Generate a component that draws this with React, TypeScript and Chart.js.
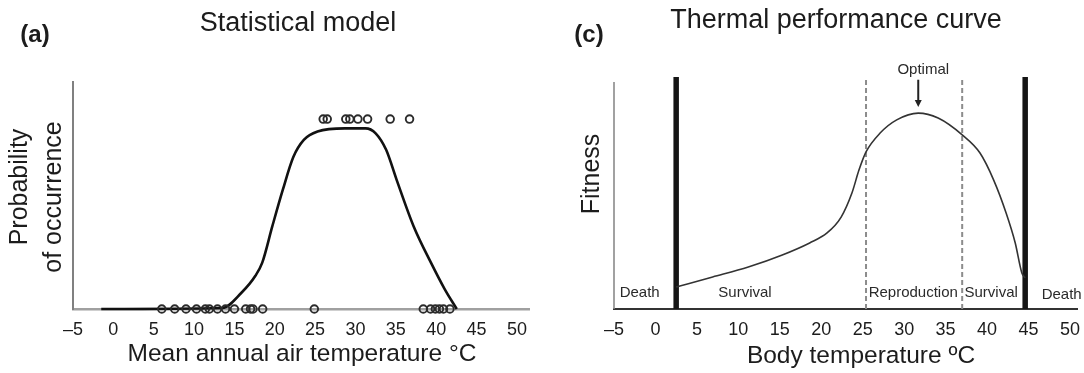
import React, { useEffect, useRef } from "react";
import { Chart, registerables } from "chart.js";

Chart.register(...registerables);

const FONT = "'Liberation Sans', Arial, Helvetica, sans-serif";

// ---------- shared ----------
const xTickValues = [-5, 0, 5, 10, 15, 20, 25, 30, 35, 40, 45, 50];

// ---------- panel (a): statistical model ----------
const curveTempA = [-1.5, 13.5, 15.9, 17.6, 18.45, 19.7, 21.0, 22.3, 23.6, 25.3, 28.7, 31.25, 32.5, 33.8, 35.1, 37.2, 39.35, 41.05, 42.55];
const curveProbA = [0, 0.005, 0.087, 0.175, 0.244, 0.436, 0.628, 0.8, 0.89, 0.934, 0.951, 0.951, 0.925, 0.838, 0.68, 0.436, 0.244, 0.105, 0];
const presenceTemps = [26.0, 26.5, 28.8, 29.3, 30.3, 31.5, 34.3, 36.7];
const absenceTemps = [6.0, 7.6, 9.0, 10.3, 11.4, 11.9, 12.9, 13.9, 15.0, 16.4, 17.0, 17.3, 18.5, 24.9, 38.4, 39.3, 39.9, 40.4, 40.9, 41.7];

// ---------- panel (c): thermal performance curve ----------
const bodyTemp = [2.5, 6.9, 11.2, 15.3, 18.6, 20.7, 22.4, 23.7, 24.55, 25.4, 27.1, 29.1, 31.7, 34.1, 37.0, 39.15, 40.8, 42.3, 43.4, 44.2, 44.6];
const fitness = [9.7, 14.1, 18.5, 23.8, 29.1, 33.5, 40.5, 51.1, 61.2, 69.2, 77.5, 83.3, 86.3, 84.1, 76.7, 68.7, 56.8, 42.3, 29.1, 15.9, 13.7];
const lethalLimits = [2.5, 44.6];
const reproLimits = [25.4, 37.0];
const zoneLabels = ["Death", "Survival", "Reproduction", "Survival", "Death"];
const zoneLabelX = [-1.9, 10.8, 31.1, 40.5, 49.0];
const zoneLabelY = [7.0, 7.0, 7.0, 7.0, 6.2];
const optimalX = 31.7;
const optimalArrow = [101, 89]; // top, tip (fitness units)
const optimalLabelY = 105.3;
const fitnessTop = 102.2;
const fitnessAxisTop = 100;

function tickLabel(v: number) {
  return v < 0 ? "\u2013" + Math.abs(v) : String(v);
}

function xScale(min: number, max: number, color: string, width: number) {
  return {
    type: "linear",
    min,
    max,
    afterBuildTicks: (scale: any) => {
      scale.ticks = xTickValues.map((v) => ({ value: v }));
    },
    ticks: {
      font: { family: FONT, size: 18 },
      color: "#1c1c1c",
      padding: 10,
      maxRotation: 0,
      autoSkip: false,
      callback: (v: any) => tickLabel(Number(v)),
    },
    grid: { display: false, drawTicks: false },
    border: { display: true, color, width },
    afterFit: (scale: any) => {
      scale.height = 64;
      scale.paddingLeft = 0;
      scale.paddingRight = 0;
    },
  };
}

function text(ctx: CanvasRenderingContext2D, s: string, x: number, y: number, font: string, color: string, rot = 0) {
  ctx.save();
  ctx.translate(x, y);
  if (rot) ctx.rotate(rot);
  ctx.font = font;
  ctx.fillStyle = color;
  ctx.textAlign = "center";
  ctx.textBaseline = "middle";
  ctx.fillText(s, 0, 0);
  ctx.restore();
}

const annotA = {
  id: "annotA",
  afterDraw(chart: any) {
    const ctx = chart.ctx as CanvasRenderingContext2D;
    text(ctx, "(a)", 35, 35, `bold 24px ${FONT}`, "#1c1c1c");
    text(ctx, "Statistical model", 298, 24, `27px ${FONT}`, "#1c1c1c");
    text(ctx, "Mean annual air temperature \u00B0C", 302, 354, `24.5px ${FONT}`, "#1c1c1c");
    text(ctx, "Probability", 20, 187, `25px ${FONT}`, "#1c1c1c", -Math.PI / 2);
    text(ctx, "of occurrence", 54, 197, `25px ${FONT}`, "#1c1c1c", -Math.PI / 2);
  },
};

const annotC = {
  id: "annotC",
  afterDraw(chart: any) {
    const ctx = chart.ctx as CanvasRenderingContext2D;
    const xs = chart.scales.x;
    const ys = chart.scales.y;
    text(ctx, "(c)", 47, 35, `bold 24px ${FONT}`, "#1c1c1c");
    text(ctx, "Thermal performance curve", 294, 21, `27px ${FONT}`, "#1c1c1c");
    text(ctx, "Body temperature \u00BAC", 319, 356, `24.5px ${FONT}`, "#1c1c1c");
    text(ctx, "Fitness", 50, 174, `25px ${FONT}`, "#1c1c1c", -Math.PI / 2);
    zoneLabels.forEach((l, i) => {
      text(ctx, l, xs.getPixelForValue(zoneLabelX[i]), ys.getPixelForValue(zoneLabelY[i]), `15px ${FONT}`, "#2a2a2a");
    });
    text(ctx, "Optimal", xs.getPixelForValue(optimalX + 0.6), ys.getPixelForValue(optimalLabelY), `15px ${FONT}`, "#2a2a2a");
    // arrow
    const ax = xs.getPixelForValue(optimalX);
    const y1 = ys.getPixelForValue(optimalArrow[0]);
    const y2 = ys.getPixelForValue(optimalArrow[1]);
    ctx.save();
    ctx.strokeStyle = "#222";
    ctx.fillStyle = "#222";
    ctx.lineWidth = 2;
    ctx.beginPath();
    ctx.moveTo(ax, y1);
    ctx.lineTo(ax, y2 - 6);
    ctx.stroke();
    ctx.beginPath();
    ctx.moveTo(ax - 3.5, y2 - 7);
    ctx.lineTo(ax + 3.5, y2 - 7);
    ctx.lineTo(ax, y2);
    ctx.closePath();
    ctx.fill();
    ctx.restore();
  },
};

function vline(x: number, top: number, color: string, width: number, dash: number[] = []) {
  return {
    type: "line",
    data: [
      { x, y: 0 },
      { x, y: top },
    ],
    borderColor: color,
    borderWidth: width,
    borderDash: dash,
    pointRadius: 0,
    clip: false,
    borderCapStyle: "butt",
  };
}

function buildA(): any {
  const pointStyle = {
    pointRadius: 3.8,
    borderWidth: 1.9,
    borderColor: "#2b2b2b",
    backgroundColor: "rgba(0,0,0,0)",
    clip: false,
  };
  return {
    type: "line",
    data: {
      datasets: [
        { type: "scatter", data: presenceTemps.map((t) => ({ x: t, y: 1 })), ...pointStyle },
        { type: "scatter", data: absenceTemps.map((t) => ({ x: t, y: 0 })), ...pointStyle },
        {
          type: "line",
          data: curveTempA.map((t, i) => ({ x: t, y: curveProbA[i] })),
          borderColor: "#111",
          borderWidth: 2.6,
          pointRadius: 0,
          cubicInterpolationMode: "monotone",
          clip: false,
        },
      ],
    },
    options: {
      animation: false,
      responsive: false,
      layout: { padding: { left: 0, right: 13, top: 82, bottom: 0 } },
      plugins: { legend: { display: false }, tooltip: { enabled: false } },
      scales: {
        x: xScale(-5, 51.5, "#a0a0a0", 2.5),
        y: {
          type: "linear",
          min: 0,
          max: 1.195,
          ticks: { display: false },
          grid: { display: false, drawTicks: false },
          border: { display: true, color: "#808080", width: 2 },
          afterFit: (s: any) => {
            s.width = 73;
          },
        },
      },
    },
    plugins: [annotA],
  };
}

function buildC(): any {
  return {
    type: "line",
    data: {
      datasets: [
        {
          type: "line",
          data: bodyTemp.map((t, i) => ({ x: t, y: fitness[i] })),
          borderColor: "#333",
          borderWidth: 1.6,
          pointRadius: 0,
          cubicInterpolationMode: "monotone",
          clip: false,
        },
        ...lethalLimits.map((v) => vline(v, fitnessTop, "#151515", 5.5)),
        ...reproLimits.map((v) => vline(v, fitnessTop, "#8c8c8c", 2, [5, 3])),
        vline(-5, fitnessAxisTop, "#8a8a8a", 1.6),
      ],
    },
    options: {
      animation: false,
      responsive: false,
      layout: { padding: { left: 0, right: 7, top: 77, bottom: 0 } },
      plugins: { legend: { display: false }, tooltip: { enabled: false } },
      scales: {
        x: xScale(-5, 50.85, "#333", 2),
        y: {
          type: "linear",
          min: 0,
          max: fitnessTop,
          ticks: { display: false },
          grid: { display: false, drawTicks: false },
          border: { display: false },
          afterFit: (s: any) => {
            s.width = 72;
          },
        },
      },
    },
    plugins: [annotC],
  };
}

function Panel({ build, left }: { build: () => any; left: number }) {
  const ref = useRef<HTMLCanvasElement | null>(null);
  useEffect(() => {
    if (!ref.current) return;
    const chart = new Chart(ref.current, build());
    return () => chart.destroy();
  }, [build]);
  return (
    <canvas
      ref={ref}
      width={542}
      height={373}
      style={{ position: "absolute", left, top: 0, width: 542, height: 373, display: "block" }}
    />
  );
}

export default function App() {
  return (
    <div style={{ position: "absolute", left: 0, top: 0, width: 1084, height: 373, background: "#fff", overflow: "hidden" }}>
      <Panel build={buildA} left={0} />
      <Panel build={buildC} left={542} />
    </div>
  );
}
